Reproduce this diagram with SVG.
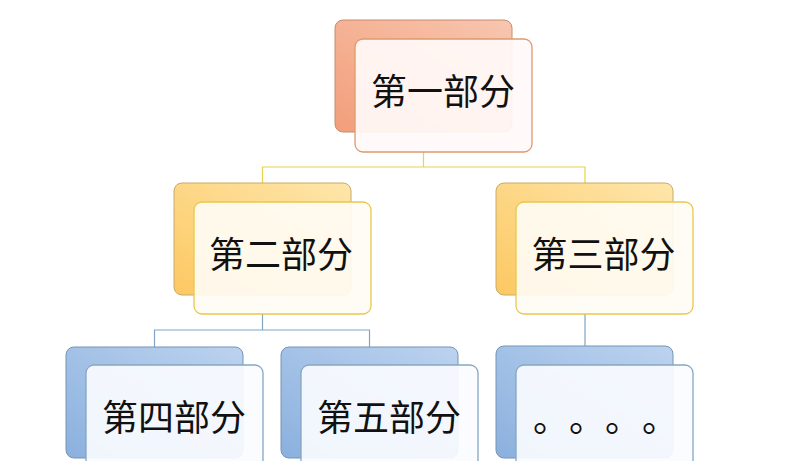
<svg xmlns="http://www.w3.org/2000/svg" width="792" height="461" viewBox="0 0 792 461">
<defs>
<linearGradient id="gOr" x1="1" y1="0" x2="0" y2="1">
<stop offset="0" stop-color="#f8c6b0"/><stop offset="1" stop-color="#f29e7a"/>
</linearGradient>
<linearGradient id="gYe" x1="1" y1="0" x2="0" y2="1">
<stop offset="0" stop-color="#fee6aa"/><stop offset="1" stop-color="#fcc862"/>
</linearGradient>
<linearGradient id="gBl" x1="1" y1="0" x2="0" y2="1">
<stop offset="0" stop-color="#bcd3ef"/><stop offset="1" stop-color="#8bb0de"/>
</linearGradient>
<style>
.back{stroke-width:1}
.front{stroke-width:1.3}
.or .back{fill:url(#gOr);stroke:#c88a6c}
.or .front{fill:#fffaf8;fill-opacity:0.92;stroke:#dc9a6e}
.ye .back{fill:url(#gYe);stroke:#c8aa6a}
.ye .front{fill:#fffcf4;fill-opacity:0.92;stroke:#e8c84c}
.bl .back{fill:url(#gBl);stroke:#7594b4}
.bl .front{fill:#fafcff;fill-opacity:0.92;stroke:#86a6c2}
text{font-family:"Noto Sans CJK SC","Noto Sans",sans-serif;font-size:36px;fill:#111;text-anchor:middle}
text.dot{text-anchor:start}
.cy{fill:none;stroke:#ecd24c;stroke-width:1.2}
.cb{fill:none;stroke:#7fa6c6;stroke-width:1.2}
</style>
</defs>
<g id="connectors">
<path class="cy" d="M423.5 152 V167 M262.5 183 V167 H585 V183"/>
<path class="cb" d="M262.5 314 V330 M154.5 347 V330 H369.5 V347 M585 314 V346"/>
</g>
<g id="node1" class="or">
<rect class="back" x="335" y="20" width="177" height="112" rx="8"/>
<rect class="front" x="355" y="39" width="177" height="113" rx="8"/>
<text x="443" y="105">第一部分</text>
</g>
<g id="node2" class="ye">
<rect class="back" x="174" y="183" width="177" height="112" rx="8"/>
<rect class="front" x="194" y="202" width="177" height="112" rx="8"/>
<text x="281" y="268">第二部分</text>
</g>
<g id="node3" class="ye">
<rect class="back" x="496" y="183" width="177" height="112" rx="8"/>
<rect class="front" x="516" y="202" width="177" height="112" rx="8"/>
<text x="603.5" y="268">第三部分</text>
</g>
<g id="node4" class="bl">
<rect class="back" x="66" y="347" width="177" height="111" rx="8"/>
<rect class="front" x="86" y="365" width="177" height="113" rx="8"/>
<text x="174" y="431">第四部分</text>
</g>
<g id="node5" class="bl">
<rect class="back" x="281" y="347" width="177" height="111" rx="8"/>
<rect class="front" x="301" y="365" width="177" height="113" rx="8"/>
<text x="389" y="431">第五部分</text>
</g>
<g id="node6" class="bl">
<rect class="back" x="496" y="346" width="177" height="112" rx="8"/>
<rect class="front" x="516" y="365" width="177" height="113" rx="8"/>
<text class="dot" x="533" y="432">。</text>
<text class="dot" x="569" y="432">。</text>
<text class="dot" x="605" y="432">。</text>
<text class="dot" x="642" y="432">。</text>
</g>
</svg>
